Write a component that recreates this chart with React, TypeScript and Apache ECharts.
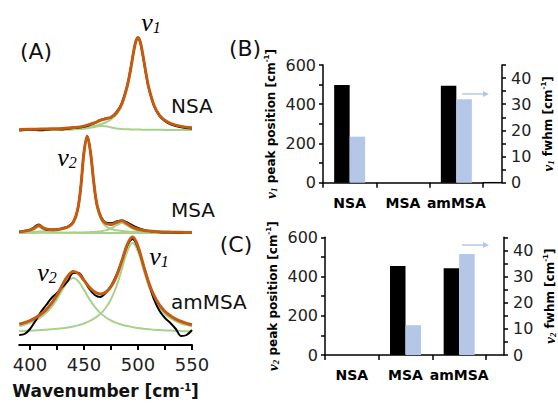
import React, { useEffect, useRef } from 'react';
import * as echarts from 'echarts';

// ---------- Panel A: spectra (intensity above each spectrum's own baseline) ----------
const wnNSA = [390, 400, 410, 420, 430, 440, 450, 460, 465, 470, 475, 480, 485, 490, 493, 496, 498, 500, 502, 504, 507, 510, 515, 520, 525, 530, 540, 550];
const nsaData = [-0.5, 0.3, -0.3, 0.8, 0.6, 2.0, 3.2, 7.0, 10, 11.5, 12.5, 17.8, 27, 44.5, 60.5, 79, 89, 92, 88, 77.5, 58.5, 41.5, 23.5, 13.8, 8.8, 5.8, 2.8, 1.6];
const nsaFit = [0.6, 0.7, 1.0, 1.2, 1.6, 2.4, 3.9, 7.3, 9.6, 11.2, 12.8, 17.0, 26.0, 43.8, 59.6, 78.5, 88.5, 92.4, 88.4, 78.3, 59.3, 42.3, 24.2, 14.7, 9.6, 6.6, 3.6, 2.3];
const nsaV1 = [0.5, 0.6, 0.8, 1.0, 1.3, 1.8, 2.6, 4.2, 5.5, 7.5, 10.5, 15.5, 25, 43, 59, 78, 88, 92, 88, 78, 59, 42, 24, 14.5, 9.5, 6.5, 3.5, 2.2];
const nsaSmall = [0.1, 0.1, 0.2, 0.2, 0.3, 0.6, 1.2, 3.0, 4.0, 3.8, 2.6, 1.6, 1.0, 0.7, 0.6, 0.5, 0.5, 0.4, 0.4, 0.3, 0.3, 0.3, 0.2, 0.2, 0.1, 0.1, 0.1, 0.1];

const wnMSA = [390, 395, 400, 404, 408, 412, 416, 420, 425, 430, 435, 440, 444, 447, 450, 453, 456, 459, 462, 466, 470, 475, 480, 485, 490, 495, 500, 505, 510, 520, 530, 540, 550];
const msaData = [1.0, 2.2, 3.4, 6.0, 8.6, 5.0, 3.0, 3.6, 3.2, 4.8, 6.5, 11, 23, 46, 81, 97, 81, 51, 28, 15.5, 10.5, 9.8, 11.5, 12.5, 10.5, 7.5, 5.0, 3.2, 2.0, 0.8, 0.4, 0.2, 0.3];
const msaFit = [1.3, 1.8, 2.9, 5.0, 7.6, 5.5, 3.7, 3.3, 3.5, 4.4, 6.0, 10.6, 22.6, 45.6, 80.7, 96.8, 81.0, 51.2, 28.4, 14.9, 9.7, 8.6, 10.5, 12.2, 9.2, 5.8, 3.7, 2.6, 2.0, 1.2, 0.9, 0.7, 0.5];
const msaV2 = [0.8, 0.9, 1.1, 1.2, 1.4, 1.6, 1.8, 2.2, 2.8, 3.8, 5.5, 10, 22, 45, 80, 96, 80, 50, 27, 13, 7, 4, 2.8, 2.1, 1.6, 1.3, 1.1, 0.9, 0.8, 0.6, 0.5, 0.4, 0.3];
const msaLow = [0.4, 0.8, 1.7, 3.7, 6, 3.7, 1.7, 0.9, 0.5, 0.3, 0.2, 0.15, 0.1, 0.1, 0.1, 0.1, 0.1, 0.1, 0.1, 0.1, 0.1, 0.1, 0.1, 0.1, 0, 0, 0, 0, 0, 0, 0, 0, 0];
const msaHigh = [0.1, 0.1, 0.1, 0.1, 0.15, 0.15, 0.15, 0.2, 0.2, 0.25, 0.3, 0.4, 0.45, 0.5, 0.6, 0.7, 0.9, 1.1, 1.3, 1.8, 2.6, 4.5, 7.6, 10, 7.6, 4.5, 2.6, 1.7, 1.15, 0.6, 0.4, 0.25, 0.2];

const wnAm = [390, 395, 400, 405, 410, 415, 420, 425, 430, 435, 440, 445, 450, 455, 460, 465, 470, 475, 480, 485, 490, 495, 500, 505, 510, 515, 520, 525, 530, 535, 540, 545, 550];
const amData = [-2, -1, 4, 12, 21, 28, 35, 40, 46, 52, 60, 60, 53, 44, 38, 36, 40, 47, 58, 72, 87, 94, 85, 68, 50, 33, 22, 15, 10, 4, -3, -2, 3];
const amFit = [8.9, 10.4, 12.4, 15.1, 18.7, 23.4, 29.8, 38.1, 47.9, 57.0, 61.6, 59.3, 52.6, 45.7, 40.9, 39.0, 40.8, 46.3, 56.6, 71.9, 88.4, 95.9, 86.5, 67.9, 50.3, 37.1, 27.9, 21.5, 17.2, 13.9, 11.5, 9.6, 8.2];
const amV1 = [1.9, 2.1, 2.3, 2.6, 2.9, 3.3, 3.7, 4.2, 4.8, 5.6, 6.6, 7.9, 9.5, 11.8, 14.8, 18.9, 25.0, 33.8, 46.5, 63.6, 81.5, 90, 81.5, 63.6, 46.5, 33.8, 25.0, 18.9, 14.8, 11.8, 9.5, 7.9, 6.6];
const amV2 = [6.9, 8.3, 10.1, 12.5, 15.8, 20.1, 26.1, 33.9, 43.1, 51.4, 55, 51.4, 43.1, 33.9, 26.1, 20.1, 15.8, 12.5, 10.1, 8.3, 6.9, 5.9, 5.0, 4.3, 3.8, 3.3, 2.9, 2.6, 2.4, 2.1, 1.9, 1.7, 1.6];

// vertical stacking offsets of the three spectra (NSA, MSA, amMSA)
const offsets = [215, 112, 12];
const wnTicks = [400, 425, 450, 475, 500, 525, 550];
const wnLabels = [400, 450, 500, 550];

// ---------- Panels B and C: bars ----------
const categories = ['NSA', 'MSA', 'amMSA'];
const v1Position = [498, null, 494];
const v1Fwhm = [17.6, null, 31.9];
const v2Position = [null, 454, 442];
const v2Fwhm = [null, 11.4, 38.6];

const SANS = 'DejaVu Sans';
const SERIF = 'Liberation Serif';
const GREEN = '#a9d18e';
const ORANGE = '#c55a11';
const BLUE = '#b4c7e7';

const pts = (xs: number[], ys: number[], off: number) => xs.map((x, i) => [x, ys[i] + off]);

const lineSeries = (xs: number[], ys: number[], off: number, color: string, width: number, z: number) => ({
  type: 'line',
  xAxisIndex: 0,
  yAxisIndex: 0,
  data: pts(xs, ys, off),
  smooth: 0.35,
  symbol: 'none',
  lineStyle: { color, width },
  z,
  silent: true,
});

const nuRich = (big: number, small: number) => ({
  n: { fontFamily: SERIF, fontStyle: 'italic', fontSize: big, color: '#000' },
  s: { fontFamily: SERIF, fontStyle: 'italic', fontSize: small, color: '#000', verticalAlign: 'bottom' },
});

const axisNameRich = {
  n: { fontFamily: SERIF, fontStyle: 'italic', fontWeight: 'bold', fontSize: 15, color: '#000' },
  s: { fontFamily: SERIF, fontStyle: 'italic', fontWeight: 'bold', fontSize: 9, color: '#000', verticalAlign: 'bottom' },
  t: { fontFamily: SANS, fontWeight: 'bold', fontSize: 12, color: '#000' },
  p: { fontFamily: SANS, fontWeight: 'bold', fontSize: 7, color: '#000', verticalAlign: 'top' },
};

const blackLine = { color: '#000', width: 1.5 };

const leftAxis = (grid: number, sub: string) => ({
  gridIndex: grid,
  type: 'value',
  position: 'left',
  min: 0,
  max: 600,
  interval: 100,
  axisLine: { show: true, lineStyle: blackLine },
  axisTick: { show: true, length: 4, lineStyle: blackLine },
  axisLabel: { fontFamily: SANS, fontSize: 16, color: '#222', margin: 7, formatter: (v: number) => (v % 200 === 0 ? String(v) : '') },
  splitLine: { show: false },
  name: `{n|ν}{s|${sub}}{t| peak position [cm}{p|-1}{t|]}`,
  nameLocation: 'middle',
  nameRotate: 90,
  nameGap: 45,
  nameTextStyle: { rich: axisNameRich },
});

const rightAxis = (grid: number, sub: string, offset: number) => ({
  gridIndex: grid,
  type: 'value',
  position: 'right',
  offset,
  min: 0,
  max: 45,
  interval: 5,
  axisLine: { show: true, lineStyle: blackLine },
  axisTick: { show: true, length: 4, lineStyle: blackLine },
  axisLabel: { fontFamily: SANS, fontSize: 16, color: '#222', margin: 9, formatter: (v: number) => (v % 10 === 0 ? String(v) : '') },
  splitLine: { show: false },
  name: `{n|ν}{s|${sub}}{t| fwhm [cm}{p|-1}{t|]}`,
  nameLocation: 'middle',
  nameRotate: 90,
  nameGap: 38,
  nameTextStyle: { rich: axisNameRich },
});

const catAxis = (grid: number) => ({
  gridIndex: grid,
  type: 'category',
  data: categories,
  axisLine: { show: true, lineStyle: blackLine },
  axisTick: { show: true, length: 5, lineStyle: blackLine },
  axisLabel: { interval: 0, fontFamily: SANS, fontWeight: 'bold', fontSize: 14, color: '#000', margin: 13 },
  splitLine: { show: false },
});

const bar = (xi: number, yi: number, data: (number | null)[], color: string) => ({
  type: 'bar',
  xAxisIndex: xi,
  yAxisIndex: yi,
  data,
  barWidth: 15.5,
  barGap: '0%',
  itemStyle: { color },
  silent: true,
});

const nuText = (x: number, y: number, sub: string) => ({
  type: 'text',
  x,
  y,
  style: {
    text: `{n|ν}{s|${sub}}`,
    rich: nuRich(26, 16),
    align: 'center',
    verticalAlign: 'middle',
  },
});

const plainText = (x: number, y: number, text: string, size: number, align = 'center') => ({
  type: 'text',
  x,
  y,
  style: { text, fontFamily: SANS, fontSize: size, fill: '#111', align, verticalAlign: 'middle' },
});

const arrow = (x1: number, x2: number, y: number) => ({
  type: 'group',
  children: [
    { type: 'line', shape: { x1, y1: y, x2: x2 - 4, y2: y }, style: { stroke: BLUE, lineWidth: 1.5 } },
    { type: 'polygon', shape: { points: [[x2, y], [x2 - 6, y - 3], [x2 - 6, y + 3]] }, style: { fill: BLUE } },
  ],
});

const option = {
  animation: false,
  backgroundColor: '#fff',
  textStyle: { fontFamily: SANS },
  grid: [
    { left: 19.2, top: 25, width: 172.8, height: 320 },
    { left: 323, top: 65, width: 160, height: 117.7 },
    { left: 325, top: 237.3, width: 161, height: 117.7 },
  ],
  xAxis: [
    {
      gridIndex: 0,
      type: 'value',
      min: 390,
      max: 550,
      axisLine: { show: true, lineStyle: { color: '#000', width: 2 } },
      axisTick: { show: true, customValues: wnTicks, length: 5, lineStyle: { color: '#000', width: 2 } },
      axisLabel: { customValues: wnLabels, fontFamily: SANS, fontSize: 18, color: '#222', margin: 10 },
      splitLine: { show: false },
      name: '{t|Wavenumber [cm}{p|-1}{t|]}',
      nameLocation: 'middle',
      nameGap: 37,
      nameTextStyle: {
        rich: {
          t: { fontFamily: SANS, fontWeight: 'bold', fontSize: 17, color: '#111' },
          p: { fontFamily: SANS, fontWeight: 'bold', fontSize: 10, color: '#111', verticalAlign: 'top' },
        },
      },
    },
    catAxis(1),
    catAxis(2),
  ],
  yAxis: [
    { gridIndex: 0, type: 'value', min: 0, max: 320, show: false },
    leftAxis(1, '1'),
    rightAxis(1, '1', 19),
    leftAxis(2, '2'),
    rightAxis(2, '2', 18),
  ],
  series: [
    // NSA
    lineSeries(wnNSA, nsaV1, offsets[0], GREEN, 2, 1),
    lineSeries(wnNSA, nsaSmall, offsets[0], GREEN, 2, 1),
    lineSeries(wnNSA, nsaData, offsets[0], '#000', 2, 2),
    lineSeries(wnNSA, nsaFit, offsets[0], ORANGE, 3, 3),
    // MSA
    lineSeries(wnMSA, msaV2, offsets[1], GREEN, 2, 1),
    lineSeries(wnMSA, msaLow, offsets[1], GREEN, 2, 1),
    lineSeries(wnMSA, msaHigh, offsets[1], GREEN, 2, 1),
    lineSeries(wnMSA, msaData, offsets[1], '#000', 2, 2),
    lineSeries(wnMSA, msaFit, offsets[1], ORANGE, 3, 3),
    // amMSA
    lineSeries(wnAm, amV1, offsets[2], GREEN, 2, 1),
    lineSeries(wnAm, amV2, offsets[2], GREEN, 2, 1),
    lineSeries(wnAm, amData, offsets[2], '#000', 2, 2),
    lineSeries(wnAm, amFit, offsets[2], ORANGE, 3, 3),
    // bars
    bar(1, 1, v1Position, '#000'),
    bar(1, 2, v1Fwhm, BLUE),
    bar(2, 3, v2Position, '#000'),
    bar(2, 4, v2Fwhm, BLUE),
  ],
  graphic: [
    plainText(36, 51, '(A)', 22),
    plainText(245, 48, '(B)', 22),
    plainText(236, 244, '(C)', 22),
    nuText(151, 22, '1'),
    nuText(67, 157, '2'),
    nuText(47, 272, '2'),
    nuText(159, 256, '1'),
    plainText(171, 106, 'NSA', 20, 'left'),
    plainText(171, 210, 'MSA', 20, 'left'),
    plainText(171, 302, 'amMSA', 20, 'left'),
    arrow(462, 489, 94),
    arrow(462, 489, 245),
    { type: 'line', shape: { x1: 483, y1: 182.7, x2: 502, y2: 182.7 }, style: { stroke: '#000', lineWidth: 1.5 } },
    { type: 'line', shape: { x1: 486, y1: 355, x2: 504, y2: 355 }, style: { stroke: '#000', lineWidth: 1.5 } },
  ],
};

export default function App() {
  const ref = useRef<HTMLDivElement>(null);
  useEffect(() => {
    if (!ref.current) return;
    const chart = echarts.init(ref.current, null, { renderer: 'svg' });
    chart.setOption(option as any);
    return () => chart.dispose();
  }, []);
  return (
    <div
      ref={ref}
      style={{ position: 'fixed', left: 0, top: 0, width: 558, height: 407, background: '#fff' }}
    />
  );
}
